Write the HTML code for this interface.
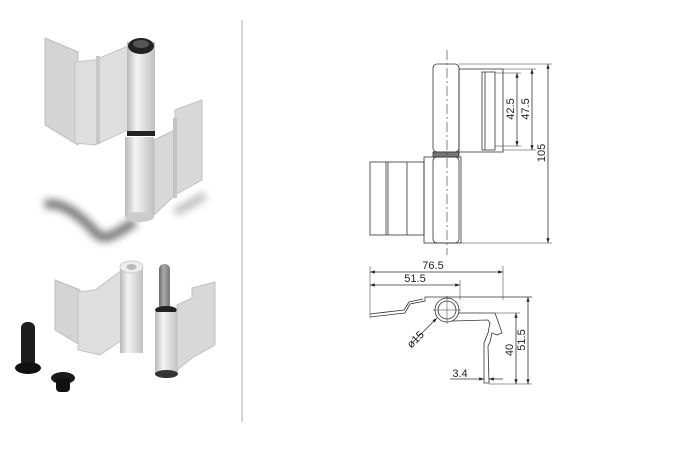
<!DOCTYPE html>
<html><head><meta charset="utf-8"><style>html,body{margin:0;padding:0;background:#fff}svg{display:block}</style></head>
<body>
<svg width="700" height="450" viewBox="0 0 700 450" xmlns="http://www.w3.org/2000/svg" font-family="Liberation Sans, sans-serif">
<defs>
<linearGradient id="bar" x1="0" x2="1"><stop offset="0" stop-color="#b8b8b8"/><stop offset="0.35" stop-color="#f4f4f4"/><stop offset="1" stop-color="#c0c0c0"/></linearGradient>
<linearGradient id="pin" x1="0" x2="1"><stop offset="0" stop-color="#666"/><stop offset="0.4" stop-color="#aaa"/><stop offset="1" stop-color="#777"/></linearGradient>
<filter id="bl" x="-50%" y="-50%" width="200%" height="200%"><feGaussianBlur stdDeviation="4"/></filter>
<marker id="a" markerWidth="6" markerHeight="6" refX="6" refY="3" orient="auto-start-reverse"><path d="M0,1 L6,3 L0,5z" fill="#222"/></marker>
</defs>
<!-- shadow -->
<path d="M45,205 C60,200 80,215 95,232 C105,245 120,230 135,222" stroke="#444" stroke-width="9" fill="none" filter="url(#bl)" opacity="0.75"/>
<path d="M175,212 C190,205 205,195 205,195" stroke="#777" stroke-width="8" fill="none" filter="url(#bl)" opacity="0.5"/>
<!-- top hinge upper leaf -->
<polygon points="45,38 78,52 78,145 45,125" fill="#d4d4d4" stroke="#bbb"/>
<polygon points="75,62 95,60 128,46 128,130 95,145 75,143" fill="#dedede" stroke="#c4c4c4"/>
<rect x="96" y="56" width="4" height="88" fill="#c8c8c8"/>
<rect x="127" y="42" width="28" height="90" fill="url(#bar)"/>
<ellipse cx="141" cy="46" rx="13" ry="8" fill="#222"/>
<ellipse cx="141" cy="44" rx="8" ry="4" fill="#555"/>
<rect x="127" y="131" width="28" height="5" fill="#222"/>
<rect x="125" y="137" width="29" height="80" fill="url(#bar)"/>
<ellipse cx="139.5" cy="217" rx="14.5" ry="5" fill="#ccc"/>
<polygon points="154,140 175,130 175,110 202,100 202,180 175,195 154,215" fill="#d8d8d8" stroke="#c0c0c0"/>
<rect x="173" y="118" width="4" height="80" fill="#c4c4c4"/>
<!-- bottom exploded -->
<polygon points="55,280 80,290 80,345 55,330" fill="#d4d4d4" stroke="#bbb"/>
<polygon points="78,292 95,290 122,270 122,340 100,355 78,350" fill="#dedede" stroke="#c4c4c4"/>
<rect x="120" y="265" width="23" height="88" fill="url(#bar)"/>
<ellipse cx="131.5" cy="267" rx="11.5" ry="6" fill="#eee" stroke="#ccc"/>
<ellipse cx="131.5" cy="267" rx="5" ry="3" fill="#bbb"/>
<rect x="159" y="264" width="11" height="46" rx="5" fill="url(#pin)"/>
<ellipse cx="166" cy="310" rx="11" ry="4" fill="#222"/>
<rect x="155" y="312" width="23" height="62" fill="url(#bar)"/>
<ellipse cx="166.5" cy="374" rx="11.5" ry="4" fill="#333"/>
<polygon points="177,305 192,298 192,288 215,282 215,345 192,358 177,370" fill="#d8d8d8" stroke="#c0c0c0"/>
<rect x="21" y="322" width="14" height="45" rx="6" fill="#1c1c1c"/>
<ellipse cx="28" cy="368" rx="13" ry="6" fill="#111"/>
<ellipse cx="63" cy="378" rx="12" ry="6" fill="#1a1a1a"/>
<rect x="56" y="378" width="14" height="14" rx="4" fill="#111"/>
<!-- divider -->
<line x1="242" y1="20" x2="242" y2="422" stroke="#d6d6d6" stroke-width="2"/>
<!-- drawing top -->
<g stroke="#333" stroke-width="0.8" fill="none">
<rect x="433" y="64" width="26" height="88" rx="4"/>
<rect x="433" y="152" width="26" height="5" fill="#777"/>
<rect x="424" y="157" width="37" height="86"/>
<rect x="433" y="157" width="26" height="86" rx="4"/>
<rect x="370" y="162" width="54" height="73"/>
<line x1="386" y1="162" x2="386" y2="235"/><line x1="388" y1="162" x2="388" y2="235"/><line x1="407" y1="162" x2="407" y2="235"/>
<rect x="459" y="69" width="44" height="83"/>
<rect x="482" y="72" width="13" height="78"/>
<line x1="485" y1="72" x2="485" y2="150"/>
<line x1="447" y1="50" x2="447" y2="255" stroke-dasharray="10,3,2,3" stroke-width="0.6"/>
<line x1="459" y1="64" x2="552" y2="64" stroke-width="0.5"/>
<line x1="459" y1="243" x2="552" y2="243" stroke-width="0.5"/>
<line x1="495" y1="73" x2="521" y2="73" stroke-width="0.5"/><line x1="495" y1="146" x2="521" y2="146" stroke-width="0.5"/>
<line x1="503" y1="69" x2="536" y2="69" stroke-width="0.5"/><line x1="503" y1="150" x2="536" y2="150" stroke-width="0.5"/>
<line x1="517" y1="73" x2="517" y2="146" marker-start="url(#a)" marker-end="url(#a)"/>
<line x1="532" y1="69" x2="532" y2="150" marker-start="url(#a)" marker-end="url(#a)"/>
<line x1="548" y1="64" x2="548" y2="243" marker-start="url(#a)" marker-end="url(#a)"/>
</g>
<g font-size="11" fill="#222">
<text transform="translate(514,109) rotate(-90)" text-anchor="middle">42.5</text>
<text transform="translate(529,109) rotate(-90)" text-anchor="middle">47.5</text>
<text transform="translate(545,153) rotate(-90)" text-anchor="middle">105</text>
</g>
<!-- drawing bottom -->
<g stroke="#333" stroke-width="0.8" fill="none">
<line x1="370" y1="266" x2="370" y2="318" stroke-width="0.5"/>
<line x1="503" y1="266" x2="503" y2="300" stroke-width="0.5"/>
<line x1="460" y1="280" x2="460" y2="300" stroke-width="0.5"/>
<line x1="370" y1="272" x2="503" y2="272" marker-start="url(#a)" marker-end="url(#a)"/>
<line x1="370" y1="285" x2="460" y2="285" marker-start="url(#a)" marker-end="url(#a)"/>
<path d="M370,317 L405,313 L410,304 L425,301 L425,297 L532,297"/>
<path d="M370,314 L404,310 L409,302 L423,299"/>
<circle cx="447" cy="310" r="12"/><circle cx="447" cy="310" r="9"/>
<line x1="447" y1="296" x2="447" y2="324" stroke-width="0.5"/><line x1="433" y1="310" x2="461" y2="310" stroke-width="0.5"/>
<path d="M458,313 L495,313 L500,327 L502,333 L497,335 L492,333 L490,342 L488,346 L489,383 L484,383 L484,343 L488,333 L490,323 L488,320 L452,321"/>
<line x1="495" y1="313" x2="520" y2="313" stroke-width="0.5"/>
<line x1="489" y1="384" x2="532" y2="384" stroke-width="0.5"/>
<line x1="516" y1="313" x2="516" y2="384" marker-start="url(#a)" marker-end="url(#a)"/>
<line x1="528" y1="297" x2="528" y2="384" marker-start="url(#a)" marker-end="url(#a)"/>
<line x1="450" y1="379" x2="484" y2="379" marker-end="url(#a)"/>
<line x1="503" y1="379" x2="489" y2="379" marker-end="url(#a)"/>
<line x1="412" y1="343" x2="437" y2="318" marker-end="url(#a)"/>
</g>
<g font-size="11" fill="#222">
<text x="433" y="269" text-anchor="middle">76.5</text>
<text x="415" y="282" text-anchor="middle">51.5</text>
<text transform="translate(513,350) rotate(-90)" text-anchor="middle">40</text>
<text transform="translate(525,340) rotate(-90)" text-anchor="middle">51.5</text>
<text x="460" y="377" text-anchor="middle">3.4</text>
<text transform="translate(418,342) rotate(-45)" text-anchor="middle">ø15</text>
</g>
</svg>
</body></html>
